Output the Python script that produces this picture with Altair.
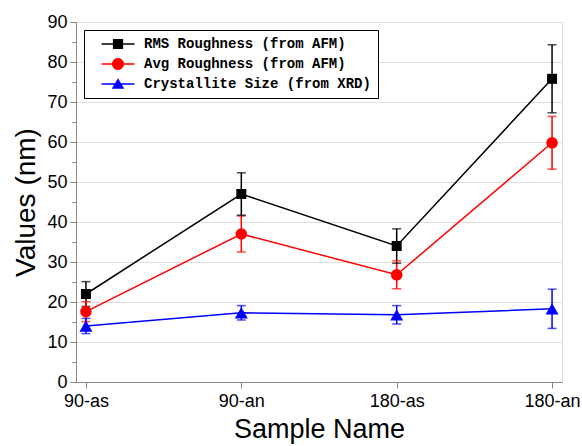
import altair as alt
import pandas as pd

samples = ["90-as", "90-an", "180-as", "180-an"]
series_names = ["RMS Roughness (from AFM)", "Avg Roughness (from AFM)", "Crystallite Size (from XRD)"]
rms = [22.0, 47.0, 34.0, 75.8]
rms_err = [3.1, 5.3, 4.3, 8.5]
avg = [17.6, 37.0, 26.8, 59.8]
avg_err = [2.5, 4.5, 3.5, 6.6]
cs = [14.0, 17.3, 16.8, 18.3]
cs_err = [1.9, 1.8, 2.3, 4.9]
colors = ["#000000", "#FF0000", "#0000FF"]
point_shapes = ["square", "circle", "triangle-up"]
point_sizes = [100, 169, 150]
legend_paths = [
    "M-2.75,-0.12H2.75V0.12H-2.75Z M-0.85,-0.85H0.85V0.85H-0.85Z",
    "M-2.75,-0.12H2.75V0.12H-2.75Z M-1,0A1,1 0 1,1 1,0A1,1 0 1,1 -1,0Z",
    "M-2.75,-0.12H2.75V0.12H-2.75Z M0,-0.95L1.05,0.8L-1.05,0.8Z",
]

rows = []
for s, vals, errs in zip(series_names, [rms, avg, cs], [rms_err, avg_err, cs_err]):
    for i, (smp, v, e) in enumerate(zip(samples, vals, errs)):
        rows.append({"series": s, "sample": smp, "idx": i, "value": v,
                     "lo": v - e, "hi": v + e})
df = pd.DataFrame(rows)

FONT = "Liberation Sans"
yscale = alt.Scale(domain=[0, 90], nice=False, zero=True)
color_scale = alt.Scale(domain=series_names, range=colors)

x_enc = alt.X("sample:N", sort=samples,
              scale=alt.Scale(type="point", padding=0.064),
              axis=alt.Axis(title="Sample Name", labelAngle=0, labelFontSize=18,
                            titleFontSize=27, titleFontWeight="normal",
                            tickSize=6, labelPadding=4, titlePadding=6,
                            labelFont=FONT, titleFont=FONT))
main_axis = alt.Axis(title="Values (nm)", values=list(range(0, 91, 10)), orient="left",
                     labelFontSize=18, titleFontSize=28, titleFontWeight="normal",
                     tickSize=6, labelPadding=3, titlePadding=6,
                     labelFont=FONT, titleFont=FONT)
minor_axis = alt.Axis(title=None, values=list(range(5, 90, 10)), orient="left",
                      labels=False, domain=False, tickSize=4)
color_enc = alt.Color("series:N", scale=color_scale, legend=None)

base = alt.Chart(df)

lines = base.mark_line(strokeWidth=1.5).encode(
    x=x_enc,
    y=alt.Y("value:Q", scale=yscale, axis=main_axis),
    color=color_enc,
    order=alt.Order("idx:Q"),
)
errs = base.mark_rule(strokeWidth=1.5).encode(
    x=x_enc,
    y=alt.Y("lo:Q", scale=yscale, axis=minor_axis),
    y2="hi:Q",
    color=color_enc,
)
caps_hi = base.mark_tick(thickness=1.5, size=9).encode(
    x=x_enc, y=alt.Y("hi:Q", scale=yscale, axis=None), color=color_enc)
caps_lo = base.mark_tick(thickness=1.5, size=9).encode(
    x=x_enc, y=alt.Y("lo:Q", scale=yscale, axis=None), color=color_enc)
points = base.mark_point(filled=True, opacity=1).encode(
    x=x_enc,
    y=alt.Y("value:Q", scale=yscale, axis=None),
    color=color_enc,
    shape=alt.Shape("series:N", scale=alt.Scale(domain=series_names, range=point_shapes), legend=None),
    size=alt.Size("series:N", scale=alt.Scale(domain=series_names, range=point_sizes), legend=None),
)

leg = alt.Legend(title=None, orient="none", legendX=8, legendY=8,
                 strokeColor="black", fillColor="white", padding=7,
                 labelFont="Liberation Mono", labelFontWeight="bold", labelFontSize=14,
                 labelColor="black", labelLimit=0, symbolSize=144, symbolOffset=20,
                 labelOffset=19, rowPadding=6, symbolOpacity=1, symbolStrokeWidth=0)
legend_layer = base.transform_filter("false").transform_calculate(
    leg="datum.series").mark_point(filled=True).encode(
    color=alt.Color("leg:N", scale=alt.Scale(domain=series_names, range=colors), legend=leg),
    shape=alt.Shape("leg:N", scale=alt.Scale(domain=series_names, range=legend_paths), legend=leg),
)

chart = alt.layer(lines, errs, caps_hi, caps_lo, points, legend_layer).resolve_scale(
    color="independent", shape="independent"
).resolve_axis(y="independent").properties(
    width=486, height=360,
    autosize=alt.AutoSizeParams(type="none"),
    padding={"left": 76, "top": 22, "right": 20, "bottom": 64},
).configure_view(stroke="black", strokeWidth=1.3).configure_axis(
    grid=False, domainColor="black", tickColor="black", labelColor="black",
    titleColor="black", domainWidth=1.3, tickWidth=1.3,
).configure(background="white")

chart.save("out.html", embed_options={"renderer": "svg", "actions": False})
